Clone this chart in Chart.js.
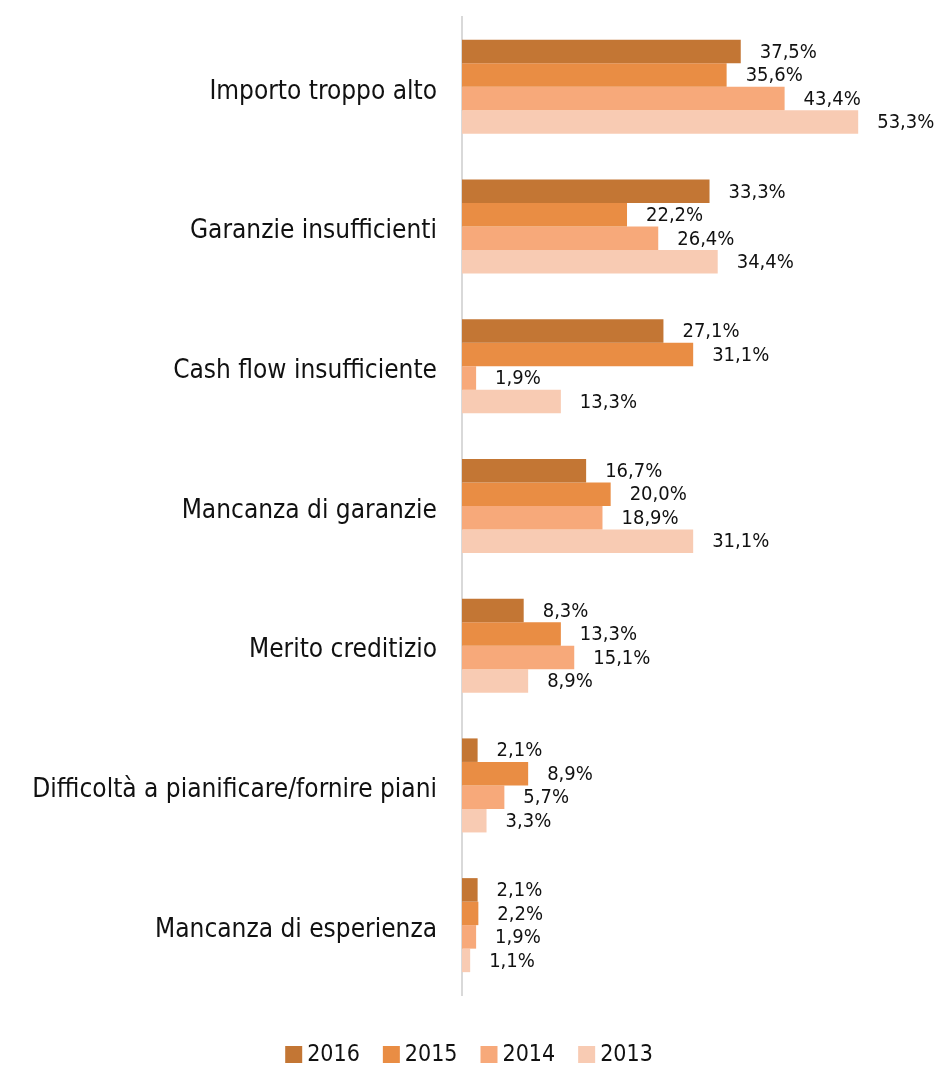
<!DOCTYPE html>
<html>
<head>
<meta charset="utf-8">
<script src="https://cdn.jsdelivr.net/npm/chart.js@4.4.1/dist/chart.umd.min.js"></script>
<style>
  html, body { margin: 0; padding: 0; background: #fff; }
  #wrap { position: relative; width: 934px; height: 1068px; }
</style>
</head>
<body>
<div id="wrap"><canvas id="chart"></canvas></div>
<script>
const categories = [
  'Importo troppo alto',
  'Garanzie insufficienti',
  'Cash flow insufficiente',
  'Mancanza di garanzie',
  'Merito creditizio',
  'Difficoltà a pianificare/fornire piani',
  'Mancanza di esperienza'
];
const years = ['2016', '2015', '2014', '2013'];
const values2016 = [37.5, 33.3, 27.1, 16.7, 8.3, 2.1, 2.1];
const values2015 = [35.6, 22.2, 31.1, 20.0, 13.3, 8.9, 2.2];
const values2014 = [43.4, 26.4, 1.9, 18.9, 15.1, 5.7, 1.9];
const values2013 = [53.3, 34.4, 13.3, 31.1, 8.9, 3.3, 1.1];
const colors = ['#c37634', '#e98d44', '#f7a97a', '#f8cbb3'];

const FONT = '"DejaVu Sans Condensed", "DejaVu Sans", sans-serif';

function fmt(v) {
  return v.toFixed(1).replace('.', ',') + '%';
}

// writes the value next to the end of each bar
const valueLabels = {
  id: 'valueLabels',
  afterDatasetsDraw(chart) {
    const ctx = chart.ctx;
    ctx.save();
    ctx.font = '20px ' + FONT;
    ctx.fillStyle = '#111';
    ctx.textAlign = 'left';
    ctx.textBaseline = 'middle';
    chart.data.datasets.forEach((ds, i) => {
      chart.getDatasetMeta(i).data.forEach((bar, j) => {
        ctx.fillText(fmt(ds.data[j]), bar.x + 19, bar.y + 1);
      });
    });
    ctx.restore();
  }
};

// compact legend under the plot: small square, tight gap, then the year
const bottomLegend = {
  id: 'bottomLegend',
  afterDraw(chart) {
    const ctx = chart.ctx;
    const box = 17, gap = 5, spacing = 23;
    ctx.save();
    ctx.font = '23px ' + FONT;
    ctx.textBaseline = 'middle';
    ctx.textAlign = 'left';
    const items = chart.data.datasets.map(ds => ({
      text: ds.label,
      color: ds.backgroundColor,
      w: ctx.measureText(ds.label).width
    }));
    const total = items.reduce((s, it) => s + box + gap + it.w, 0) + spacing * (items.length - 1);
    let x = 469 - total / 2;
    const y = 1054.5;
    items.forEach(it => {
      ctx.fillStyle = it.color;
      ctx.fillRect(x, y - box / 2, box, box);
      ctx.fillStyle = '#111';
      ctx.fillText(it.text, x + box + gap, y + 1);
      x += box + gap + it.w + spacing;
    });
    ctx.restore();
  }
};

const seriesValues = [values2016, values2015, values2014, values2013];

new Chart(document.getElementById('chart'), {
  type: 'bar',
  data: {
    labels: categories,
    datasets: years.map((y, i) => ({
      label: y,
      data: seriesValues[i],
      backgroundColor: colors[i],
      barPercentage: 1.0,
      categoryPercentage: 0.673
    }))
  },
  options: {
    indexAxis: 'y',
    responsive: true,
    maintainAspectRatio: false,
    animation: false,
    layout: { padding: { top: 17, right: 26, left: 0, bottom: 73 } },
    plugins: {
      tooltip: { enabled: false },
      legend: { display: false }
    },
    scales: {
      x: {
        display: false,
        min: 0,
        max: 60
      },
      y: {
        afterFit(scale) {
          // fixed axis position, no extra room above/below the bands
          scale.width = 462;
          scale.paddingTop = 0;
          scale.paddingBottom = 0;
        },
        grid: { display: false, drawTicks: false },
        border: { display: true, color: '#d9d9d9', width: 2 },
        ticks: {
          padding: 25,
          labelOffset: 5,
          color: '#111',
          font: { family: FONT, size: 26 }
        }
      }
    }
  },
  plugins: [valueLabels, bottomLegend]
});
</script>
</body>
</html>
